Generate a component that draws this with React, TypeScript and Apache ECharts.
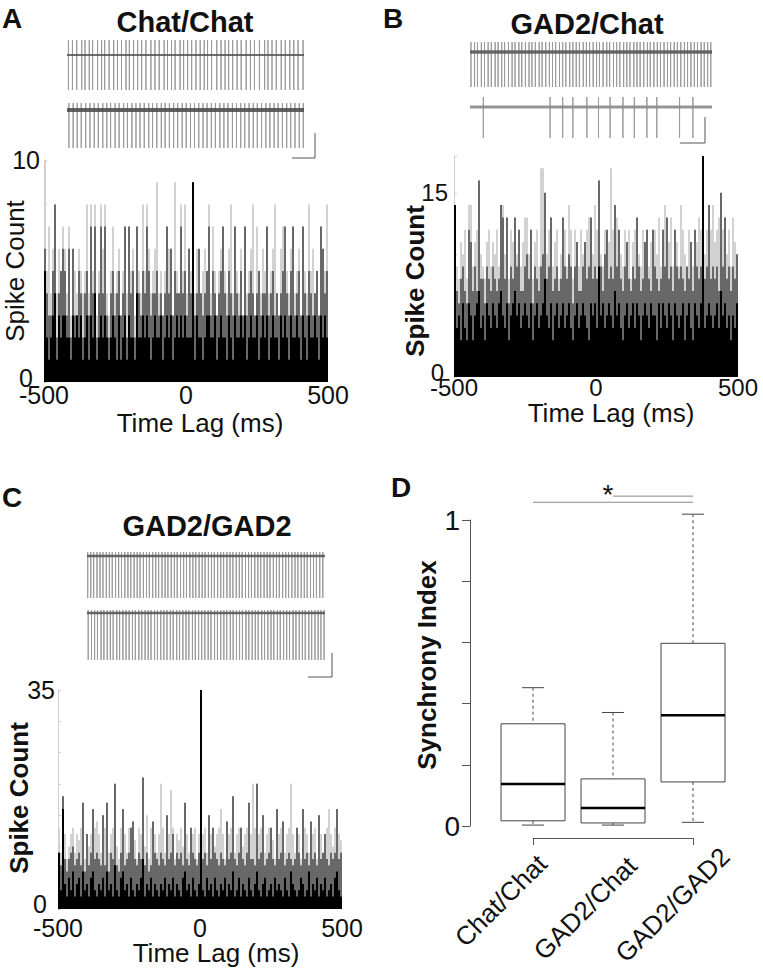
import React, { useEffect, useRef } from "react";
import * as echarts from "echarts";

const FONT = '"Liberation Sans", Arial, Helvetica, sans-serif';

// ---------- Cross-correlogram data (2 px bins, 142 bins over -500..500 ms) ----------
// three layers: tallest (light), middle (dark gray), base (black)
const chatChatLight = [
  10, 5, 7, 4, 6, 8, 4, 6, 5, 7,
  6, 4, 7, 3, 6, 5, 4, 6, 5, 4,
  5, 8, 4, 8, 5, 8, 3, 5, 8, 6,
  8, 4, 3, 5, 7, 4, 5, 6, 3, 5,
  7, 4, 7, 5, 6, 3, 7, 5, 4, 8,
  5, 8, 6, 4, 5, 6, 9, 4, 5, 3,
  5, 7, 6, 6, 3, 9, 5, 4, 8, 5,
  8, 4, 6, 5, 9, 4, 6, 6, 4, 5,
  6, 5, 8, 4, 7, 5, 3, 5, 6, 7,
  5, 4, 6, 8, 4, 7, 5, 4, 6, 3,
  7, 4, 5, 6, 8, 3, 7, 5, 4, 6,
  5, 7, 4, 5, 6, 8, 4, 3, 6, 7,
  7, 5, 4, 6, 7, 4, 5, 6, 3, 7,
  5, 4, 8, 5, 6, 4, 5, 3, 7, 6,
  5, 8,
];
const chatChatMid = [
  6, 4, 3, 3, 5, 8, 2, 4, 5, 6,
  5, 3, 6, 2, 6, 3, 3, 5, 4, 2,
  4, 5, 3, 7, 4, 7, 2, 4, 7, 4,
  7, 3, 2, 4, 5, 3, 4, 5, 3, 4,
  7, 2, 7, 4, 5, 2, 7, 4, 3, 5,
  4, 7, 5, 3, 4, 4, 5, 3, 4, 3,
  4, 7, 4, 6, 3, 5, 4, 4, 7, 4,
  5, 3, 6, 4, 9, 3, 4, 6, 4, 3,
  4, 5, 7, 3, 5, 4, 3, 4, 5, 7,
  4, 3, 5, 4, 3, 7, 4, 3, 5, 3,
  7, 3, 4, 5, 4, 3, 4, 5, 3, 4,
  4, 7, 3, 4, 5, 3, 4, 3, 4, 5,
  7, 4, 3, 5, 7, 3, 4, 5, 3, 7,
  4, 3, 5, 4, 3, 4, 5, 3, 7, 6,
  4, 5,
];
const chatChatDark = [
  5, 2, 1, 2, 3, 4, 1, 3, 2, 3,
  3, 2, 2, 1, 3, 2, 3, 2, 3, 1,
  2, 3, 1, 3, 2, 4, 1, 2, 3, 2,
  3, 2, 1, 2, 3, 2, 1, 3, 1, 2,
  3, 1, 3, 2, 2, 1, 4, 2, 2, 3,
  2, 3, 2, 1, 2, 3, 2, 2, 3, 1,
  2, 3, 2, 3, 1, 2, 3, 2, 3, 2,
  3, 2, 2, 2, 9, 1, 3, 2, 2, 1,
  2, 3, 3, 2, 2, 3, 1, 2, 3, 2,
  2, 1, 3, 2, 1, 3, 2, 2, 3, 2,
  3, 1, 2, 3, 2, 2, 3, 1, 2, 3,
  2, 3, 1, 2, 3, 2, 2, 1, 3, 2,
  3, 2, 1, 3, 2, 2, 3, 2, 1, 3,
  2, 1, 3, 2, 2, 3, 2, 1, 3, 2,
  3, 2,
];

const gadChatLight = [
  14, 9, 8, 11, 10, 12, 8, 14, 14, 9,
  11, 12, 16, 10, 9, 8, 11, 12, 9, 11,
  10, 12, 9, 14, 14, 10, 13, 8, 12, 11,
  13, 10, 12, 9, 11, 13, 13, 10, 12, 8,
  11, 12, 9, 17, 17, 15, 10, 12, 13, 9,
  11, 12, 8, 10, 13, 12, 9, 14, 12, 8,
  12, 11, 9, 12, 10, 11, 12, 13, 13, 10,
  14, 12, 16, 10, 9, 12, 12, 11, 17, 12,
  14, 13, 12, 10, 9, 12, 11, 12, 8, 11,
  12, 13, 10, 9, 12, 11, 12, 9, 11, 12,
  12, 10, 13, 9, 12, 14, 13, 11, 13, 9,
  12, 11, 9, 14, 12, 10, 9, 12, 11, 9,
  12, 11, 13, 12, 18, 10, 12, 14, 12, 14,
  11, 12, 13, 15, 12, 13, 10, 12, 9, 13,
  11, 10,
];
const gadChatMid = [
  14, 7, 6, 8, 9, 7, 6, 12, 11, 7,
  9, 7, 16, 8, 8, 6, 9, 8, 7, 9,
  8, 7, 8, 14, 13, 8, 13, 6, 9, 8,
  13, 9, 12, 7, 7, 9, 10, 8, 12, 6,
  9, 8, 7, 9, 10, 15, 8, 9, 13, 7,
  8, 9, 7, 8, 13, 9, 8, 10, 9, 6,
  9, 11, 7, 7, 9, 11, 8, 9, 13, 8,
  9, 8, 16, 9, 7, 10, 12, 8, 9, 8,
  14, 9, 12, 8, 7, 9, 11, 8, 7, 9,
  8, 13, 9, 7, 8, 11, 12, 8, 7, 12,
  9, 8, 7, 8, 12, 9, 13, 8, 9, 7,
  12, 9, 8, 9, 8, 7, 9, 8, 11, 7,
  12, 9, 8, 9, 18, 8, 9, 14, 8, 9,
  8, 9, 7, 15, 9, 13, 8, 9, 7, 9,
  8, 10,
];
const gadChatDark = [
  14, 4, 5, 3, 6, 4, 3, 6, 5, 3,
  5, 6, 7, 4, 5, 3, 6, 5, 4, 6,
  5, 4, 6, 7, 5, 4, 6, 3, 5, 6,
  7, 5, 6, 4, 5, 6, 5, 4, 6, 3,
  5, 6, 4, 5, 6, 8, 5, 4, 6, 3,
  5, 6, 4, 5, 6, 4, 5, 6, 4, 3,
  5, 6, 4, 5, 6, 5, 4, 3, 6, 5,
  6, 4, 9, 5, 6, 4, 5, 6, 5, 4,
  7, 5, 6, 4, 3, 5, 6, 4, 5, 6,
  4, 6, 5, 3, 5, 6, 5, 4, 6, 5,
  5, 3, 6, 4, 6, 5, 4, 6, 5, 3,
  6, 5, 4, 5, 6, 3, 5, 6, 4, 3,
  6, 5, 4, 6, 18, 4, 5, 6, 5, 4,
  5, 6, 4, 7, 5, 6, 4, 5, 3, 5,
  4, 6,
];

const gadGadLight = [
  13, 9, 18, 12, 8, 10, 12, 13, 9, 12,
  11, 13, 17, 8, 12, 10, 12, 16, 13, 14,
  12, 9, 15, 13, 17, 9, 12, 13, 20, 10,
  8, 13, 16, 12, 9, 13, 13, 14, 11, 8,
  13, 12, 21, 10, 15, 8, 13, 14, 12, 9,
  12, 20, 13, 9, 15, 12, 19, 13, 8, 12,
  11, 13, 10, 17, 12, 9, 13, 12, 13, 8,
  12, 35, 12, 13, 9, 15, 12, 13, 10, 12,
  13, 16, 12, 8, 14, 12, 13, 18, 9, 12,
  13, 13, 10, 12, 13, 17, 12, 20, 13, 20,
  12, 13, 15, 9, 12, 13, 13, 11, 8, 16,
  12, 13, 14, 9, 12, 13, 20, 12, 9, 13,
  12, 8, 16, 13, 12, 9, 14, 12, 13, 8,
  15, 12, 9, 12, 13, 16, 12, 10, 13, 16,
  12, 11,
];
const gadGadMid = [
  9, 7, 18, 8, 6, 8, 9, 10, 7, 8,
  9, 7, 17, 6, 12, 7, 9, 16, 8, 9,
  8, 7, 15, 7, 17, 6, 9, 8, 20, 7,
  6, 9, 16, 7, 8, 9, 13, 14, 8, 7,
  9, 8, 21, 7, 9, 6, 7, 14, 9, 8,
  7, 9, 8, 7, 15, 8, 9, 12, 7, 9,
  8, 9, 7, 17, 8, 7, 13, 9, 8, 7,
  9, 35, 8, 9, 7, 15, 8, 13, 9, 8,
  7, 9, 8, 7, 14, 8, 9, 18, 8, 7,
  9, 13, 8, 7, 9, 17, 8, 8, 7, 20,
  8, 9, 15, 7, 8, 9, 13, 8, 7, 16,
  8, 9, 14, 7, 8, 9, 8, 7, 8, 13,
  9, 7, 16, 8, 9, 7, 14, 8, 9, 7,
  15, 8, 9, 12, 8, 7, 9, 8, 9, 16,
  8, 9,
];
const gadGadDark = [
  9, 3, 16, 4, 2, 5, 3, 6, 2, 4,
  5, 2, 6, 3, 4, 2, 5, 6, 3, 2,
  4, 3, 5, 2, 6, 3, 4, 2, 7, 3,
  2, 5, 6, 3, 4, 2, 5, 3, 2, 4,
  3, 5, 8, 2, 4, 3, 5, 2, 4, 3,
  2, 4, 3, 5, 2, 4, 3, 5, 2, 4,
  3, 2, 5, 6, 3, 4, 2, 5, 3, 2,
  4, 35, 3, 2, 5, 3, 4, 2, 5, 3,
  2, 4, 3, 5, 2, 4, 3, 6, 2, 3,
  5, 2, 4, 3, 2, 5, 3, 2, 4, 6,
  3, 2, 4, 5, 2, 3, 4, 2, 5, 3,
  4, 3, 2, 5, 3, 2, 6, 4, 3, 2,
  3, 5, 4, 2, 3, 6, 2, 4, 3, 5,
  2, 4, 3, 5, 2, 3, 4, 2, 5, 6,
  3, 2,
];

const lagTicks = [-500, 0, 500];

// ---------- Example recordings: spike times (% of sweep) ----------
const chatTraceA = [0.6, 2.3, 4.1, 6.2, 7.6, 9.4, 10.8, 12.9, 14.6, 15.9, 17.8, 19.7, 21.3, 23.0, 24.9, 26.3, 28.1, 29.8, 31.5, 33.3, 35.4, 37.1, 38.9, 41.0, 42.4, 44.1, 45.6, 47.7, 49.2, 50.9, 52.6, 54.4, 56.2, 57.9, 59.3, 61.0, 63.2, 65.0, 66.7, 68.2, 69.9, 71.8, 73.5, 75.6, 77.4, 79.1, 81.2, 83.4, 84.8, 86.5, 88.3, 90.4, 92.1, 94.0, 95.7, 97.5, 99.6];
const chatTraceB = [0.8, 2.6, 4.3, 6.0, 7.9, 9.7, 11.5, 13.2, 15.1, 16.8, 18.4, 20.3, 22.0, 23.9, 25.5, 27.4, 29.1, 30.8, 32.6, 34.5, 36.1, 37.9, 39.8, 41.4, 43.2, 45.0, 46.7, 48.6, 50.3, 52.1, 53.8, 55.6, 57.4, 59.1, 60.9, 62.6, 64.5, 66.2, 67.9, 69.8, 71.5, 73.3, 75.0, 76.8, 78.6, 80.3, 82.1, 83.9, 85.6, 87.4, 89.1, 90.9, 92.7, 94.4, 96.2, 98.0, 99.7];
const gadTraceB = [0.4, 1.9, 3.1, 4.7, 6.0, 7.5, 8.8, 10.4, 11.6, 13.1, 14.3, 15.9, 17.4, 18.6, 20.2, 21.4, 22.9, 24.4, 25.6, 27.0, 28.6, 29.8, 31.3, 32.8, 34.1, 35.4, 37.0, 38.3, 39.6, 41.2, 42.5, 43.9, 45.2, 46.8, 48.1, 49.4, 50.9, 52.3, 53.5, 55.0, 56.5, 57.7, 59.3, 60.6, 61.9, 63.5, 64.8, 66.1, 67.7, 69.0, 70.3, 71.8, 73.3, 74.5, 76.0, 77.4, 78.7, 80.2, 81.6, 82.9, 84.4, 85.7, 87.1, 88.6, 89.9, 91.3, 92.7, 94.0, 95.5, 96.8, 98.2, 99.5];
const chatTraceBsparse = [5.5, 33.1, 38.3, 42.5, 48.3, 53.1, 57.9, 63.2, 67.9, 73.1, 77.2, 86.6, 92.1];
const gadTraceC1 = [0.3, 1.6, 2.8, 4.2, 5.5, 6.7, 8.1, 9.4, 10.6, 12.0, 13.3, 14.5, 15.9, 17.2, 18.4, 19.8, 21.1, 22.3, 23.7, 25.0, 26.2, 27.6, 28.9, 30.1, 31.5, 32.8, 34.0, 35.4, 36.7, 37.9, 39.3, 40.6, 41.8, 43.2, 44.5, 45.7, 47.1, 48.4, 49.6, 51.0, 52.3, 53.5, 54.9, 56.2, 57.4, 58.8, 60.1, 61.3, 62.7, 64.0, 65.2, 66.6, 67.9, 69.1, 70.5, 71.8, 73.0, 74.4, 75.7, 76.9, 78.3, 79.6, 80.8, 82.2, 83.5, 84.7, 86.1, 87.4, 88.6, 90.0, 91.3, 92.5, 93.9, 95.2, 96.4, 97.8, 99.1];
const gadTraceC2 = [0.5, 1.9, 3.2, 4.4, 5.9, 7.1, 8.5, 9.8, 11.0, 12.5, 13.7, 15.1, 16.4, 17.7, 19.1, 20.3, 21.8, 23.0, 24.4, 25.7, 26.9, 28.4, 29.6, 31.0, 32.3, 33.6, 35.0, 36.2, 37.7, 38.9, 40.3, 41.6, 42.8, 44.3, 45.5, 46.9, 48.2, 49.5, 50.9, 52.1, 53.6, 54.8, 56.2, 57.5, 58.7, 60.2, 61.4, 62.8, 64.1, 65.3, 66.8, 68.0, 69.4, 70.7, 71.9, 73.4, 74.6, 76.0, 77.3, 78.5, 80.0, 81.2, 82.6, 83.9, 85.1, 86.6, 87.8, 89.2, 90.5, 91.7, 93.2, 94.4, 95.8, 97.1, 98.3, 99.6];

// ---------- Panel D: synchrony index box stats [min, q1, median, q3, max] ----------
const pairTypes = ["Chat/Chat", "GAD2/Chat", "GAD2/GAD2"];
const synchronyStats = [
  [0.003, 0.017, 0.137, 0.334, 0.452],
  [0.003, 0.010, 0.059, 0.154, 0.371],
  [0.012, 0.144, 0.362, 0.597, 1.019],
];
const sigBarLong = [pairTypes[0], pairTypes[2], 1.058];
const sigBarShort = [pairTypes[1], pairTypes[2], 1.078];

// ---------- helpers ----------
function binCenters(n: number) {
  return Array.from({ length: n }, (_, i) => -500 + ((i + 0.5) * 1000) / n);
}

function histLayer(axisIdx: number, values: number[], color: string) {
  const c = binCenters(values.length);
  return {
    type: "bar",
    xAxisIndex: axisIdx,
    yAxisIndex: axisIdx,
    data: values.map((v, i) => [c[i], v]),
    barWidth: 2,
    barGap: "-100%",
    itemStyle: { color },
    silent: true,
  };
}

function spikePath(times: number[], up: number, down: number) {
  const pts: number[][] = [[0, 0]];
  times.forEach((t) => {
    pts.push([t, 0], [t, up], [t, -down], [t, 0]);
  });
  pts.push([100, 0]);
  return pts;
}

const traceDefs = [
  { times: chatTraceA, left: 67, top: 40, width: 237, up: 15, down: 35, baseW: 1.5, baseC: "#3a3a3a" },
  { times: chatTraceB, left: 67, top: 103, width: 237, up: 7, down: 38, baseW: 4, baseC: "#4a4a4a" },
  { times: gadTraceB, left: 470, top: 42, width: 242, up: 10, down: 35, baseW: 3.5, baseC: "#555" },
  { times: chatTraceBsparse, left: 470, top: 97, width: 242, up: 10, down: 31, baseW: 3, baseC: "#888" },
  { times: gadTraceC1, left: 87, top: 552, width: 238, up: 4, down: 42, baseW: 2.5, baseC: "#555" },
  { times: gadTraceC2, left: 87, top: 610, width: 238, up: 3, down: 47, baseW: 2.5, baseC: "#555" },
];

const histDefs = [
  { left: 44, top: 160, height: 222, max: 10, interval: 2, topLabel: 10, layers: [chatChatLight, chatChatMid, chatChatDark], fs: 25, xMargin: 0, yMargin: 4, zeroPad: [0, 7, 8, 0] },
  { left: 454, top: 156, height: 221, max: 18, interval: 5, topLabel: 15, layers: [gadChatLight, gadChatMid, gadChatDark], fs: 24, xMargin: -2, yMargin: 6, zeroPad: [0, 4, 10, 0] },
  { left: 58, top: 690, height: 219, max: 35, interval: 5, topLabel: 35, layers: [gadGadLight, gadGadMid, gadGadDark], fs: 25, xMargin: 6, yMargin: 3, zeroPad: [0, 8, 10, 0] },
];

const layerColors = ["#d2d2d2", "#686868", "#000000"];

export default function App() {
  const ref = useRef<HTMLDivElement>(null);

  useEffect(() => {
    if (!ref.current) return;
    const chart = echarts.init(ref.current, undefined, { renderer: "svg" });

    const grids: any[] = [];
    const xAxes: any[] = [];
    const yAxes: any[] = [];
    const series: any[] = [];

    // histograms: axis index 0..2
    histDefs.forEach((h, k) => {
      grids.push({ left: h.left, top: h.top, width: 284, height: h.height });
      xAxes.push({
        type: "value",
        gridIndex: k,
        min: -500,
        max: 500,
        interval: 500,
        axisLine: { show: false, onZero: false },
        axisTick: { show: false },
        splitLine: { show: false },
        axisLabel: {
          fontSize: h.fs,
          fontFamily: FONT,
          color: "#111",
          margin: h.xMargin,
          formatter: (v: number) => (lagTicks.includes(v) ? String(v) : ""),
        },
      });
      yAxes.push({
        type: "value",
        gridIndex: k,
        min: 0,
        max: h.max,
        interval: h.interval,
        axisLine: { show: true, onZero: false, lineStyle: { color: "#cfcfcf", width: 1 } },
        axisTick: { show: true, inside: true, length: 3, lineStyle: { color: "#cfcfcf" } },
        splitLine: { show: false },
        axisLabel: {
          fontSize: h.fs,
          fontFamily: FONT,
          color: "#111",
          margin: h.yMargin,
          formatter: (v: number) => (v === 0 ? "{z|0}" : v === h.topLabel ? String(v) : ""),
          rich: { z: { fontSize: h.fs, fontFamily: FONT, color: "#111", padding: h.zeroPad } },
        },
      });
      h.layers.forEach((vals, li) => series.push(histLayer(k, vals, layerColors[li])));
    });

    // panel D: axis index 3
    grids.push({ left: 533, top: 520, width: 160, height: 306 });
    xAxes.push({
      type: "category",
      gridIndex: 3,
      data: pairTypes,
      boundaryGap: false,
      offset: 12,
      axisLine: { show: true, onZero: false, lineStyle: { color: "#555", width: 1 } },
      axisTick: { show: true, length: 7, lineStyle: { color: "#555" } },
      axisLabel: { show: false },
      splitLine: { show: false },
    });
    yAxes.push({
      type: "value",
      gridIndex: 3,
      min: 0,
      max: 1,
      interval: 0.2,
      offset: 63,
      axisLine: { show: true, onZero: false, lineStyle: { color: "#555", width: 1 } },
      axisTick: { show: true, length: 8, lineStyle: { color: "#555" } },
      splitLine: { show: false },
      axisLabel: {
        fontSize: 28,
        fontFamily: FONT,
        color: "#111",
        margin: 10,
        formatter: (v: number) => (v === 0 || v === 1 ? String(v) : ""),
      },
    });
    series.push({
      type: "custom",
      xAxisIndex: 3,
      yAxisIndex: 3,
      data: synchronyStats.map((s, i) => [i, ...s]),
      encode: { x: 0, y: [1, 2, 3, 4, 5] },
      clip: false,
      silent: true,
      renderItem: (params: any, api: any) => {
        const i = api.value(0);
        const pLow = api.coord([i, api.value(1)]);
        const pQ1 = api.coord([i, api.value(2)]);
        const pMed = api.coord([i, api.value(3)]);
        const pQ3 = api.coord([i, api.value(4)]);
        const pHigh = api.coord([i, api.value(5)]);
        const cx = pLow[0];
        const hw = 32;
        const cw = 11;
        const dashed = { stroke: "#444", lineWidth: 1, lineDash: [3, 3] };
        const solid = { stroke: "#444", lineWidth: 1 };
        return {
          type: "group",
          children: [
            { type: "line", shape: { x1: cx, y1: pHigh[1], x2: cx, y2: pQ3[1] }, style: dashed },
            { type: "line", shape: { x1: cx, y1: pQ1[1], x2: cx, y2: pLow[1] }, style: dashed },
            { type: "line", shape: { x1: cx - cw, y1: pHigh[1], x2: cx + cw, y2: pHigh[1] }, style: solid },
            { type: "line", shape: { x1: cx - cw, y1: pLow[1], x2: cx + cw, y2: pLow[1] }, style: solid },
            {
              type: "rect",
              shape: { x: cx - hw, y: pQ3[1], width: 2 * hw, height: pQ1[1] - pQ3[1] },
              style: { fill: "#fff", stroke: "#444", lineWidth: 1 },
            },
            {
              type: "line",
              shape: { x1: cx - hw, y1: pMed[1], x2: cx + hw, y2: pMed[1] },
              style: { stroke: "#000", lineWidth: 2.5 },
            },
          ],
        };
      },
    });
    [sigBarLong, sigBarShort].forEach((b) => {
      series.push({
        type: "line",
        xAxisIndex: 3,
        yAxisIndex: 3,
        data: [
          [b[0], b[2]],
          [b[1], b[2]],
        ],
        symbol: "none",
        clip: false,
        silent: true,
        lineStyle: { color: "#888", width: 1 },
      });
    });

    // traces: axis index 4..9
    traceDefs.forEach((t, k) => {
      const idx = 4 + k;
      grids.push({ left: t.left, top: t.top, width: t.width, height: t.up + t.down });
      xAxes.push({ type: "value", gridIndex: idx, min: 0, max: 100, show: false });
      yAxes.push({ type: "value", gridIndex: idx, min: -t.down, max: t.up, show: false });
      series.push({
        type: "line",
        xAxisIndex: idx,
        yAxisIndex: idx,
        data: spikePath(t.times, t.up, t.down),
        symbol: "none",
        silent: true,
        lineStyle: { color: "#9a9a9a", width: 1 },
        z: 2,
      });
      series.push({
        type: "line",
        xAxisIndex: idx,
        yAxisIndex: idx,
        data: [
          [0, 0],
          [100, 0],
        ],
        symbol: "none",
        silent: true,
        lineStyle: { color: t.baseC, width: t.baseW, opacity: 0.85 },
        z: 3,
      });
    });

    const txt = (
      text: string,
      x: number,
      y: number,
      size: number,
      bold: boolean,
      align = "center",
      rotation = 0,
      vAlign = "middle"
    ) => ({
      type: "text",
      x,
      y,
      rotation,
      silent: true,
      style: {
        text,
        fontSize: size,
        fontWeight: bold ? "bold" : "normal",
        fontFamily: FONT,
        fill: "#111",
        align,
        verticalAlign: vAlign,
      },
    });

    const scaleBar = (pts: number[][]) => ({
      type: "polyline",
      silent: true,
      shape: { points: pts },
      style: { stroke: "#555", lineWidth: 1, fill: "none" },
    });

    const graphic: any[] = [
      txt("A", 2, 18, 28, true, "left"),
      txt("B", 383, 18, 28, true, "left"),
      txt("C", 2, 497, 28, true, "left"),
      txt("D", 391, 487, 28, true, "left"),
      txt("Chat/Chat", 185, 22, 29, true),
      txt("GAD2/Chat", 587, 24, 29, true),
      txt("GAD2/GAD2", 207, 526, 29, true),
      txt("Spike Count", 15, 271, 26, false, "center", Math.PI / 2),
      txt("Spike Count", 415, 281, 26, true, "center", Math.PI / 2),
      txt("Spike Count", 19, 798, 26, true, "center", Math.PI / 2),
      txt("Synchrony Index", 427, 665, 26, true, "center", Math.PI / 2),
      txt("Time Lag (ms)", 200, 423, 26, false),
      txt("Time Lag (ms)", 611, 413, 26, false),
      txt("Time Lag (ms)", 216, 953, 26, false),
      txt("*", 608, 494, 28, false),
      txt(pairTypes[0], 533, 850, 26, false, "right", Math.PI / 4, "top"),
      txt(pairTypes[1], 623, 852, 26, false, "right", Math.PI / 4, "top"),
      txt(pairTypes[2], 716, 843, 26, false, "right", Math.PI / 4, "top"),
      scaleBar([[292, 158], [315, 158], [315, 133]]),
      scaleBar([[680, 143], [705, 143], [705, 117]]),
      scaleBar([[308, 677], [332, 677], [332, 653]]),
    ];

    chart.setOption({
      animation: false,
      backgroundColor: "#ffffff",
      grid: grids,
      xAxis: xAxes,
      yAxis: yAxes,
      series,
      graphic,
    });

    return () => chart.dispose();
  }, []);

  return (
    <div
      ref={ref}
      style={{ position: "fixed", left: 0, top: 0, width: 763, height: 968, background: "#fff" }}
    />
  );
}
